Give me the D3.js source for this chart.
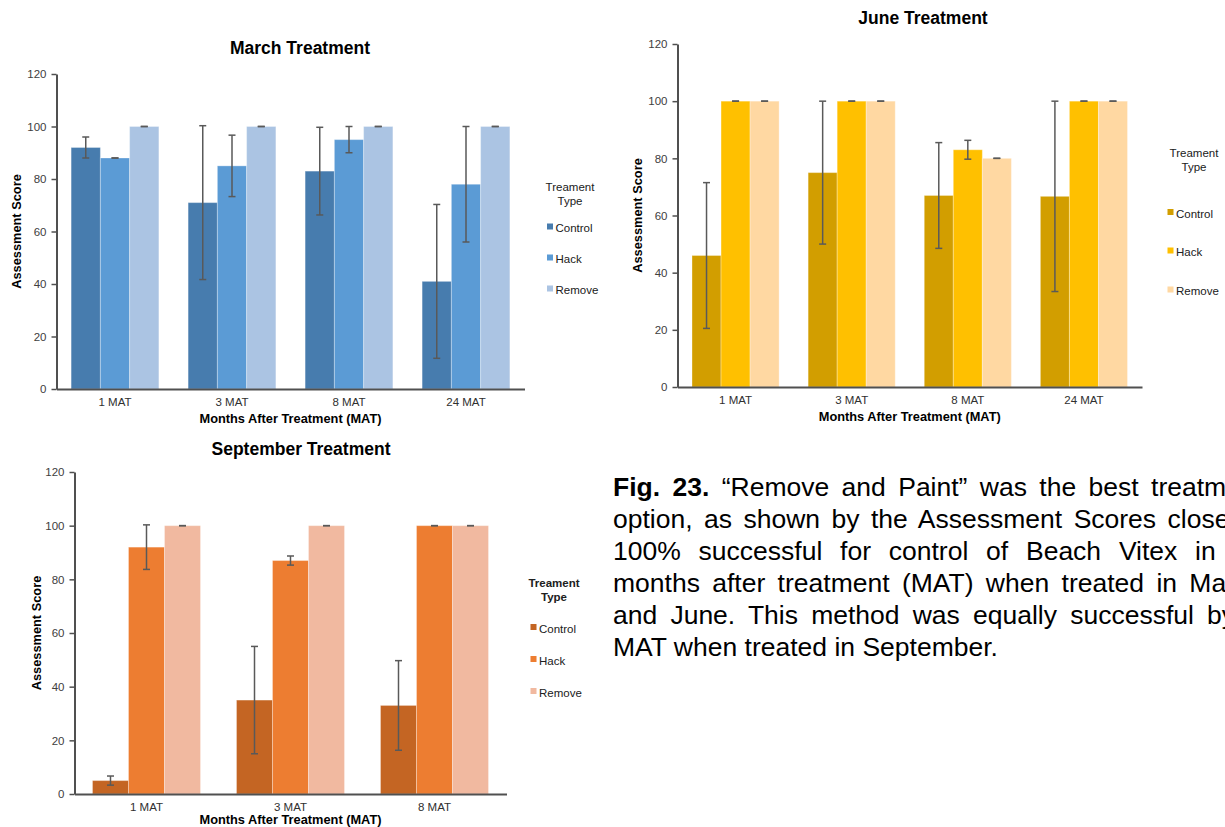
<!DOCTYPE html>
<html>
<head>
<meta charset="utf-8">
<script src="https://cdn.jsdelivr.net/npm/d3@7"></script>
<style>
  html, body { margin: 0; padding: 0; background: #fff; overflow: hidden; }
  svg { display: block; font-family: "Liberation Sans", Arial, sans-serif; }
</style>
</head>
<body>
<svg id="fig" width="1225" height="827"></svg>
<script>
// ---- data ----
const seriesNames = ["Control", "Hack", "Remove"];
const legendTitle = ["Treament", "Type"];
const yTicks = [0, 20, 40, 60, 80, 100, 120];

const marchCategories = ["1 MAT", "3 MAT", "8 MAT", "24 MAT"];
const marchControl = [92, 71, 83, 41];
const marchControlErr = [4, 29.3, 16.7, 29.3];
const marchHack = [88, 85, 95, 78];
const marchHackErr = [0, 11.7, 5, 22];
const marchRemove = [100, 100, 100, 100];
const marchRemoveErr = [0, 0, 0, 0];

const juneCategories = ["1 MAT", "3 MAT", "8 MAT", "24 MAT"];
const juneControl = [46, 75, 67, 66.7];
const juneControlErr = [25.5, 25, 18.5, 33.3];
const juneHack = [100, 100, 83, 100];
const juneHackErr = [0, 0, 3.3, 0];
const juneRemove = [100, 100, 80, 100];
const juneRemoveErr = [0, 0, 0, 0];

const septCategories = ["1 MAT", "3 MAT", "8 MAT"];
const septControl = [5, 35, 33];
const septControlErr = [1.7, 20, 16.7];
const septHack = [92, 87, 100];
const septHackErr = [8.3, 1.7, 0];
const septRemove = [100, 100, 100];
const septRemoveErr = [0, 0, 0];

const captionLines = [
  [{ t: "Fig. 23.", bold: true }, { t: " \u201CRemove and Paint\u201D was the best treatment" }],
  [{ t: "option, as shown by the Assessment Scores close to" }],
  [{ t: "100% successful for control of Beach Vitex in 24" }],
  [{ t: "months after treatment (MAT) when treated in March" }],
  [{ t: "and June. This method was equally successful by 8" }],
  [{ t: "MAT when treated in September." }]
];

// ---- drawing ----
const svg = d3.select("#fig");

function drawChart(cfg) {
  const g = svg.append("g");
  const x = d3.scaleBand().domain(cfg.categories).range(cfg.xRange)
    .paddingInner(0.25).paddingOuter(0.125);
  const xs = d3.scaleBand().domain(seriesNames).range([0, x.bandwidth()]).padding(0);
  const y = d3.scaleLinear().domain([0, 120]).range(cfg.yRange);

  const rows = [];
  cfg.categories.forEach((c, i) => {
    seriesNames.forEach((s, j) => {
      rows.push({ cat: c, series: s, v: cfg.values[j][i], e: cfg.errors[j][i], color: cfg.colors[j] });
    });
  });

  // bars
  g.selectAll("rect.bar").data(rows).join("rect")
    .attr("class", "bar")
    .attr("x", d => x(d.cat) + xs(d.series))
    .attr("y", d => y(d.v))
    .attr("width", xs.bandwidth())
    .attr("height", d => y(0) - y(d.v))
    .attr("fill", d => d.color)
    .attr("stroke", "rgba(255,255,255,0.3)")
    .attr("stroke-width", 1);

  // error bars
  const eg = g.selectAll("g.err").data(rows).join("g").attr("class", "err")
    .attr("stroke", "#595959").attr("stroke-width", 1.5);
  const cx = d => x(d.cat) + xs(d.series) + xs.bandwidth() / 2;
  eg.append("line")
    .attr("x1", cx).attr("x2", cx)
    .attr("y1", d => y(d.v - d.e)).attr("y2", d => y(d.v + d.e));
  eg.append("line")
    .attr("x1", d => cx(d) - 3.5).attr("x2", d => cx(d) + 3.5)
    .attr("y1", d => y(d.v + d.e)).attr("y2", d => y(d.v + d.e));
  eg.append("line")
    .attr("x1", d => cx(d) - 3.5).attr("x2", d => cx(d) + 3.5)
    .attr("y1", d => y(d.v - d.e)).attr("y2", d => y(d.v - d.e));

  // y axis
  const yAxis = g.append("g")
    .attr("transform", `translate(${cfg.xRange[0]},0)`)
    .call(d3.axisLeft(y).tickValues(yTicks).tickSize(5).tickSizeOuter(0).tickPadding(5));
  yAxis.select(".domain").attr("stroke", "#505050").attr("stroke-width", 2);
  yAxis.selectAll(".tick line").attr("stroke", "#505050").attr("stroke-width", 1.5);
  yAxis.selectAll(".tick text").attr("fill", "#404040")
    .style("font-size", "11.5px").style("font-family", "Liberation Sans, Arial, sans-serif");

  // x axis
  const xAxis = g.append("g")
    .attr("transform", `translate(0,${y(0)})`)
    .call(d3.axisBottom(x).tickSize(0).tickSizeOuter(0).tickPadding(9));
  xAxis.select(".domain").attr("stroke", "#505050").attr("stroke-width", 2);
  xAxis.selectAll(".tick text").attr("fill", "#303030")
    .style("font-size", "11.5px").style("font-family", "Liberation Sans, Arial, sans-serif");

  // titles
  g.append("text").attr("x", cfg.titlePos[0]).attr("y", cfg.titlePos[1])
    .attr("text-anchor", "middle").style("font-size", "17.5px").style("font-weight", "bold")
    .text(cfg.title);
  g.append("text").attr("x", (cfg.xRange[0] + cfg.xRange[1]) / 2).attr("y", cfg.xTitleY)
    .attr("text-anchor", "middle").style("font-size", "12.8px").style("font-weight", "bold")
    .text("Months After Treatment (MAT)");
  g.append("text")
    .attr("transform", `translate(${cfg.yTitleX},${(cfg.yRange[0] + cfg.yRange[1]) / 2}) rotate(-90)`)
    .attr("text-anchor", "middle").style("font-size", "12.8px").style("font-weight", "bold")
    .text("Assessment Score");

  // legend
  const lg = g.append("g");
  legendTitle.forEach((t, i) => {
    lg.append("text").attr("x", cfg.legend.titleX).attr("y", cfg.legend.titleY + i * 13.5)
      .attr("text-anchor", "middle").style("font-size", "11.5px")
      .style("font-weight", cfg.legend.boldTitle ? "bold" : "normal")
      .attr("fill", "#202020").text(t);
  });
  seriesNames.forEach((s, j) => {
    const by = cfg.legend.itemY[j];
    lg.append("rect").attr("x", cfg.legend.boxX).attr("y", by - 8.5)
      .attr("width", 6).attr("height", 6).attr("fill", cfg.colors[j]);
    lg.append("text").attr("x", cfg.legend.boxX + 8.5).attr("y", by)
      .style("font-size", "11.5px").attr("fill", "#202020").text(s);
  });
}

drawChart({
  title: "March Treatment", titlePos: [300, 54],
  categories: marchCategories,
  values: [marchControl, marchHack, marchRemove],
  errors: [marchControlErr, marchHackErr, marchRemoveErr],
  colors: ["#477CAE", "#5B9BD5", "#ABC4E3"],
  xRange: [56.5, 524.5], yRange: [389, 74],
  xTitleY: 423, yTitleX: 20.5,
  legend: { titleX: 570, titleY: 191, boldTitle: false, boxX: 547, itemY: [232, 263, 294] }
});

drawChart({
  title: "June Treatment", titlePos: [923, 24],
  categories: juneCategories,
  values: [juneControl, juneHack, juneRemove],
  errors: [juneControlErr, juneHackErr, juneRemoveErr],
  colors: ["#D29E00", "#FFC000", "#FFD8A2"],
  xRange: [677.5, 1142], yRange: [387, 44],
  xTitleY: 421, yTitleX: 641.5,
  legend: { titleX: 1194, titleY: 157, boldTitle: false, boxX: 1167.5, itemY: [217.5, 256, 295] }
});

drawChart({
  title: "September Treatment", titlePos: [301, 455],
  categories: septCategories,
  values: [septControl, septHack, septRemove],
  errors: [septControlErr, septHackErr, septRemoveErr],
  colors: ["#C46523", "#ED7D31", "#F1B9A0"],
  xRange: [74.5, 506.5], yRange: [794, 472],
  xTitleY: 824, yTitleX: 40.5,
  legend: { titleX: 554, titleY: 587, boldTitle: true, boxX: 530.5, itemY: [632.5, 664.5, 696.5] }
});

// caption, justified to a fixed measure except for the last line
const capX = 613, capY = 496, capLead = 32, capWidth = 650;
captionLines.forEach((segs, i) => {
  const t = svg.append("text").attr("x", capX).attr("y", capY + i * capLead)
    .style("font-size", "26.5px").attr("fill", "#000")
    .attr("xml:space", "preserve");
  segs.forEach(s => {
    t.append("tspan").style("font-weight", s.bold ? "bold" : "normal").text(s.t);
  });
  if (i < captionLines.length - 1) {
    const full = segs.map(s => s.t).join("");
    const spaces = (full.match(/ /g) || []).length;
    const natural = t.node().getComputedTextLength();
    t.attr("word-spacing", (capWidth - natural) / spaces);
  }
});
</script>
</body>
</html>
